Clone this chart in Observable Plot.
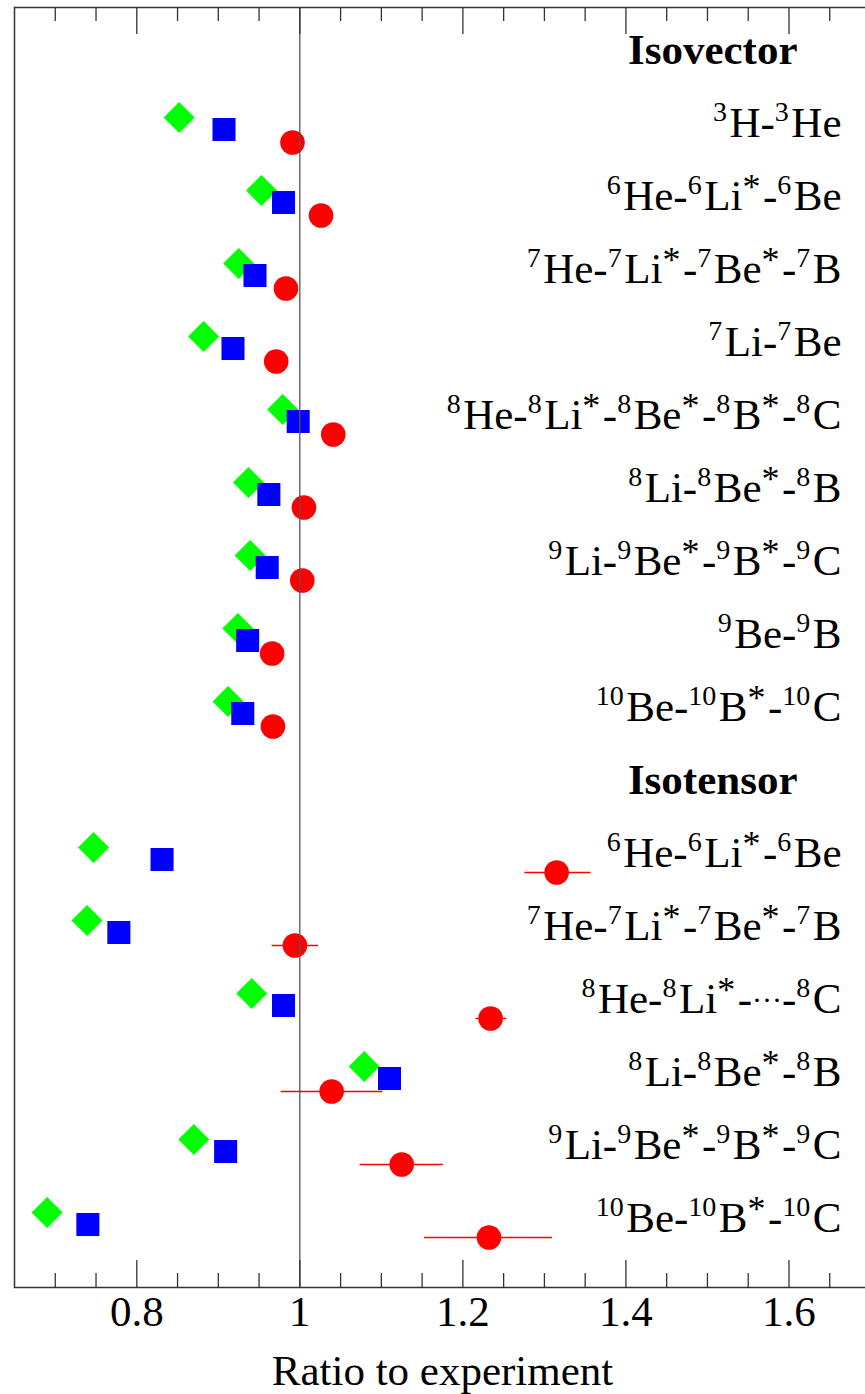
<!DOCTYPE html>
<html><head><meta charset="utf-8">
<script src="https://cdn.jsdelivr.net/npm/d3@7"></script>
<script src="https://cdn.jsdelivr.net/npm/@observablehq/plot@0.6"></script>
<style>html,body{margin:0;padding:0;background:#fff;} #chart svg{display:block;}</style>
</head><body><div id="chart"></div>
<script>
// Row labels (index = row position from top). ^{..} = superscript, _{..} = small inline
const rowLabels = [
  "Isovector",
  "^{3}H-^{3}He",
  "^{6}He-^{6}Li^{*}-^{6}Be",
  "^{7}He-^{7}Li^{*}-^{7}Be^{*}-^{7}B",
  "^{7}Li-^{7}Be",
  "^{8}He-^{8}Li^{*}-^{8}Be^{*}-^{8}B^{*}-^{8}C",
  "^{8}Li-^{8}Be^{*}-^{8}B",
  "^{9}Li-^{9}Be^{*}-^{9}B^{*}-^{9}C",
  "^{9}Be-^{9}B",
  "^{10}Be-^{10}B^{*}-^{10}C",
  "Isotensor",
  "^{6}He-^{6}Li^{*}-^{6}Be",
  "^{7}He-^{7}Li^{*}-^{7}Be^{*}-^{7}B",
  "^{8}He-^{8}Li^{*}-_{···}-^{8}C",
  "^{8}Li-^{8}Be^{*}-^{8}B",
  "^{9}Li-^{9}Be^{*}-^{9}B^{*}-^{9}C",
  "^{10}Be-^{10}B^{*}-^{10}C"
];
const headerRows = [0, 10];
const pointRows = [1, 2, 3, 4, 5, 6, 7, 8, 9, 11, 12, 13, 14, 15, 16];

// Series values (ratio to experiment)
const diamondValues = [0.852, 0.953, 0.925, 0.882, 0.979, 0.937, 0.939, 0.924, 0.912, 0.747, 0.739, 0.941, 1.079, 0.870, 0.690];
const squareValues  = [0.907, 0.980, 0.945, 0.918, 0.998, 0.962, 0.960, 0.936, 0.930, 0.831, 0.778, 0.980, 1.110, 0.909, 0.740];
const circleValues  = [0.991, 1.026, 0.983, 0.971, 1.041, 1.005, 1.003, 0.966, 0.967, 1.315, 0.994, 1.234, 1.039, 1.125, 1.232];

// Error bars of the circle series (isotensor rows)
const errRows = [11, 12, 13, 14, 15, 16];
const circleErrLow  = [1.276, 0.966, 1.216, 0.977, 1.074, 1.153];
const circleErrHigh = [1.357, 1.023, 1.254, 1.102, 1.176, 1.310];

const majorTicks = [0.8, 1, 1.2, 1.4, 1.6];
const majorTickLabels = ["0.8", "1", "1.2", "1.4", "1.6"];
const minorTicks = [0.7, 0.75, 0.85, 0.9, 0.95, 1.05, 1.1, 1.15, 1.25, 1.3, 1.35, 1.45, 1.5, 1.55, 1.65];
const referenceValue = [1];
const xLabel = "Ratio to experiment";

const W = 865, H = 1394;
const mT = 7, mB = 107, mL = 14, mR = -5;
const innerH = H - mT - mB;
const FS = 43;

const rows = pointRows.map((r, i) => ({row: r, d: diamondValues[i], s: squareValues[i], c: circleValues[i]}));
const errs = errRows.map((r, i) => ({row: r, lo: circleErrLow[i], hi: circleErrHigh[i]}));
const labels = rowLabels.map((t, i) => ({row: i, text: t})).filter(d => !headerRows.includes(d.row));
const headers = rowLabels.map((t, i) => ({row: i, text: t})).filter(d => headerRows.includes(d.row));

const tickStyle = {stroke: "#333", strokeWidth: 1.3};
const fontFam = "'Liberation Serif', 'Times New Roman', serif";

const plot = Plot.plot({
  width: W, height: H,
  marginTop: mT, marginBottom: mB, marginLeft: mL, marginRight: mR,
  style: {fontFamily: fontFam, background: "#fff", color: "#000"},
  x: {domain: [0.65, 1.7]},
  y: {domain: [-0.589, 16.945], reverse: true, axis: null},
  marks: [
    Plot.dot(rows, {x: "d", y: "row", symbol: "diamond2", r: 14, fill: "#00ff00", dy: -6}),
    Plot.dot(rows, {x: "s", y: "row", symbol: "square", r: 13, fill: "#0000ff", dy: 6}),
    Plot.ruleY(errs, {x1: "lo", x2: "hi", y: "row", dy: 19, stroke: "#ff0000", strokeWidth: 1.3}),
    Plot.dot(rows, {x: "c", y: "row", symbol: "circle", r: 12.3, fill: "#ff0000", dy: 19}),
    Plot.ruleX(referenceValue, {stroke: "#555", strokeWidth: 1.3}),
    Plot.ruleX(majorTicks, {insetTop: innerH - 27, ...tickStyle}),
    Plot.ruleX(majorTicks, {insetBottom: innerH - 27, ...tickStyle}),
    Plot.ruleX(minorTicks, {insetTop: innerH - 14, ...tickStyle}),
    Plot.ruleX(minorTicks, {insetBottom: innerH - 14, ...tickStyle}),
    Plot.frame({stroke: "#333", strokeWidth: 1.5}),
    Plot.axisX({anchor: "bottom", ticks: majorTicks, tickSize: 0, tickPadding: 8,
      tickFormat: d => majorTickLabels[majorTicks.indexOf(d)], fontSize: FS, label: null}),
    Plot.text(labels, {y: "row", text: "text", frameAnchor: "right", dx: -29, textAnchor: "end",
      lineAnchor: "middle", fontSize: FS, fill: "#000", className: "rowlabel"}),
    Plot.text(headers, {y: "row", text: "text", frameAnchor: "right", dx: -73, textAnchor: "end",
      lineAnchor: "middle", fontSize: FS, fontWeight: "bold", fill: "#000"}),
    Plot.text([xLabel], {text: d => d, frameAnchor: "bottom", dy: 84, lineAnchor: "middle", fontSize: FS, fill: "#000"})
  ]
});

document.getElementById("chart").appendChild(plot);

// Turn ^{..} markup into real superscript tspans
const ns = "http://www.w3.org/2000/svg";
for (const t of plot.querySelectorAll("g.rowlabel text")) {
  const s = t.textContent;
  if (!/[\^_]\{/.test(s)) continue;
  t.textContent = "";
  const parts = s.split(/([\^_]\{[^}]*\})/);
  let shift = 0, afterSup = false;
  for (const p of parts) {
    if (!p) continue;
    const ts = document.createElementNS(ns, "tspan");
    const m = p.match(/^([\^_])\{(.*)\}$/);
    let target = 0;
    if (m) {
      ts.textContent = m[2];
      if (m[1] === "_") { ts.setAttribute("font-size", 30); target = -3; }
      else if (m[2] === "*") { ts.setAttribute("font-size", 36); target = -11; }
      else { ts.setAttribute("font-size", 28); target = -16; }
    } else {
      ts.textContent = p;
    }
    if (target !== shift) ts.setAttribute("dy", target - shift);
    if (afterSup) ts.setAttribute("dx", 2.5);
    afterSup = !!m && m[1] === "^";
    shift = target;
    t.appendChild(ts);
  }
}
</script>
</body></html>
